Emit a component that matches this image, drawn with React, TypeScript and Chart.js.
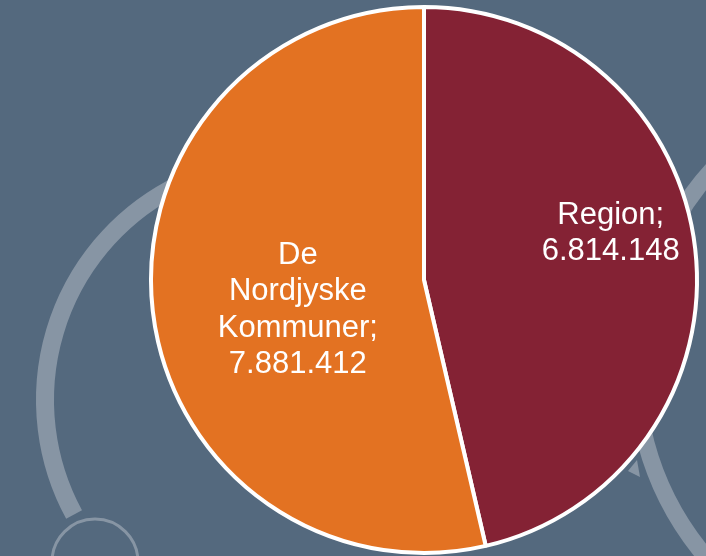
import { useEffect, useRef } from "react";
import { Chart, registerables } from "chart.js";

Chart.register(...registerables);

// ---- data ----
const categories = ["Region", "De Nordjyske Kommuner"];
const categoryLines = [["Region"], ["De", "Nordjyske", "Kommuner"]];
const values = [6814148, 7881412];
const sliceColors = ["#842234", "#E37222"];
// label placement relative to each slice (angle offset from mid-angle, fraction of radius)
const labelAngleOffsetDeg = [-7.5, -6.8];
const labelRadiusFrac = [0.705, 0.475];

const BG = "#54697e";
const RING = "#8795a4";

const deg = (d: number) => (d * Math.PI) / 180;

function formatDa(n: number): string {
  const s = Math.round(n).toString();
  let out = "";
  for (let i = 0; i < s.length; i++) {
    const fromEnd = s.length - i;
    out += s[i];
    if (fromEnd > 1 && (fromEnd - 1) % 3 === 0) out += ".";
  }
  return out;
}

const bgPlugin = {
  id: "bgDecor",
  beforeDraw(chart: any) {
    const ctx = chart.ctx as CanvasRenderingContext2D;
    ctx.save();
    ctx.fillStyle = BG;
    ctx.fillRect(0, 0, chart.width, chart.height);
    ctx.strokeStyle = RING;
    ctx.lineCap = "butt";
    ctx.lineWidth = 18;
    ctx.beginPath();
    ctx.arc(285, 400, 240, deg(151.5), deg(260));
    ctx.stroke();
    ctx.lineWidth = 17;
    ctx.beginPath();
    ctx.arc(929, 367, 293, deg(120), deg(250));
    ctx.stroke();
    ctx.lineWidth = 3;
    ctx.beginPath();
    ctx.arc(95, 562, 43, 0, Math.PI * 2);
    ctx.stroke();
    ctx.fillStyle = RING;
    ctx.beginPath();
    ctx.moveTo(628, 471);
    ctx.lineTo(640, 477);
    ctx.lineTo(637, 460);
    ctx.closePath();
    ctx.fill();
    ctx.restore();
  },
};

const labelPlugin = {
  id: "sliceLabels",
  afterDatasetsDraw(chart: any) {
    const ctx = chart.ctx as CanvasRenderingContext2D;
    const meta = chart.getDatasetMeta(0);
    ctx.save();
    ctx.fillStyle = "#ffffff";
    ctx.font = '31px "Liberation Sans", Arial, sans-serif';
    ctx.textAlign = "center";
    ctx.textBaseline = "middle";
    const lineH = 36.5;
    meta.data.forEach((arc: any, i: number) => {
      const { x, y, startAngle, endAngle, outerRadius } = arc.getProps(
        ["x", "y", "startAngle", "endAngle", "outerRadius"],
        true
      );
      const a = (startAngle + endAngle) / 2 + deg(labelAngleOffsetDeg[i]);
      const r = outerRadius * labelRadiusFrac[i];
      const lx = x + Math.cos(a) * r;
      const ly = y + Math.sin(a) * r;
      const words = categoryLines[i];
      const lines = [
        ...words.slice(0, -1),
        words[words.length - 1] + ";",
        formatDa(values[i]),
      ];
      const top = ly - ((lines.length - 1) * lineH) / 2;
      lines.forEach((t, k) => ctx.fillText(t, lx, top + k * lineH));
    });
    ctx.restore();
  },
};

export default function App() {
  const ref = useRef<HTMLCanvasElement | null>(null);
  useEffect(() => {
    document.body.style.margin = "0";
    if (!ref.current) return;
    const chart = new Chart(ref.current, {
      type: "pie",
      data: {
        labels: categories,
        datasets: [
          {
            data: values,
            backgroundColor: sliceColors,
            borderColor: "#ffffff",
            borderWidth: 4,
          },
        ],
      },
      options: {
        responsive: false,
        animation: false,
        radius: 273,
        layout: { padding: { left: 142, right: 0, top: 4, bottom: 0 } },
        plugins: {
          legend: { display: false },
          tooltip: { enabled: false },
        },
      } as any,
      plugins: [bgPlugin, labelPlugin],
    });
    return () => chart.destroy();
  }, []);
  return (
    <div style={{ width: 706, height: 556 }}>
      <canvas ref={ref} width={706} height={556} style={{ display: "block" }} />
    </div>
  );
}
